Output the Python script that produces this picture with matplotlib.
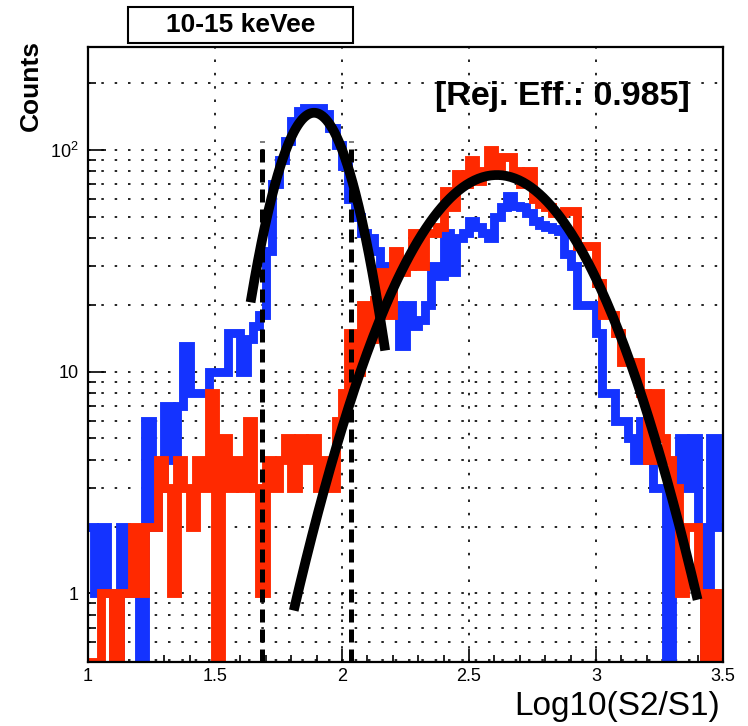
import matplotlib
matplotlib.use("Agg")
import matplotlib.pyplot as plt
import numpy as np
from matplotlib.ticker import MultipleLocator, FixedLocator, FixedFormatter, LogLocator, NullFormatter, FuncFormatter
from matplotlib.patches import Rectangle

plt.rcParams['font.family'] = ['Liberation Sans', 'DejaVu Sans']
plt.rcParams['mathtext.default'] = 'regular'

# histogram binning: 100 bins of 0.025 between 1 and 3.5
bin_lo, bin_hi, n_bins = 1.0, 3.5, 100

# blue histogram (electron recoils, 10-15 keVee)
blue_counts = [2, 1, 2, 1, 0, 2, 1, 1, 0, 6,
               2, 3, 7, 4, 7, 13, 8, 8, 8, 10,
               10, 10, 15, 15, 10, 14, 16, 18, 35, 70,
               90, 110, 135, 150, 155, 155, 155, 145, 125, 105,
               85, 60, 50, 42, 40, 35, 30, 28, 20, 13,
               20, 16, 17, 20, 30, 27, 42, 28, 40, 42,
               48, 45, 42, 40, 50, 55, 62, 56, 55, 52,
               48, 46, 45, 44, 43, 34, 30, 20, 20, 20,
               15, 8, 8, 6, 6, 5, 4, 6, 4, 3,
               3, 0, 3, 5, 3, 5, 2, 0, 5, 2]

# red histogram (nuclear recoils)
red_counts = [0, 0, 1, 1, 0, 1, 1, 2, 1, 2,
              2, 4, 3, 1, 4, 3, 2, 4, 3, 8,
              0, 5, 3, 4, 3, 6, 3, 1, 4, 3,
              4, 5, 3, 5, 4, 5, 3, 4, 3, 6,
              8, 15, 10, 20, 14, 21, 28, 18, 35, 28,
              30, 42, 30, 42, 42, 45, 65, 55, 78, 70,
              90, 72, 80, 100, 85, 93, 93, 80, 70, 80,
              60, 57, 55, 52, 52, 53, 53, 37, 37, 37,
              25, 18, 18, 15, 11, 11, 11, 8, 4, 8,
              5, 4, 3, 1, 2, 2, 1, 0, 1, 0]

# gaussian fits in log10(S2/S1)
blue_fit = dict(amp=147.0, mean=1.89, sigma=0.126, x_from=1.64, x_to=2.17)
red_fit = dict(amp=77.0, mean=2.61, sigma=0.266, x_from=1.81, x_to=3.40)

# acceptance window
cut_lines = [1.685, 2.035]
cut_top = 110

energy_label = "10-15 keVee"
rej_label = "[Rej. Eff.: 0.985]"

ymin, ymax = 0.49, 291

fig = plt.figure(figsize=(7.48, 7.26), dpi=100)
ax = fig.add_axes([88 / 748, 1 - 662 / 726, 635 / 748, 615 / 726])
ax.set_yscale('log')
ax.set_xlim(bin_lo, bin_hi)
ax.set_ylim(ymin, ymax)

edges = np.linspace(bin_lo, bin_hi, n_bins + 1)
blue_col = (0.08, 0.2, 1.0)
red_col = (1.0, 0.16, 0.0)

# zero bins sit on the bottom axis like in ROOT
ax.stairs(np.maximum(blue_counts, ymin), edges, color=blue_col, lw=6.4,
          baseline=None, zorder=3)
ax.stairs(np.maximum(red_counts, ymin), edges, color=red_col, lw=6.4,
          baseline=None, zorder=4)

for xc in cut_lines:
    ax.plot([xc, xc], [ymin, cut_top], color='black', lw=3.6,
            linestyle=(0, (2.6, 1.4)), zorder=5)

def gaus(p):
    xx = np.linspace(p['x_from'], p['x_to'], 200)
    return xx, p['amp'] * np.exp(-0.5 * ((xx - p['mean']) / p['sigma']) ** 2)

for p in (blue_fit, red_fit):
    xx, yy = gaus(p)
    ax.plot(xx, yy, color='black', lw=7, solid_capstyle='butt', zorder=6)

# axes cosmetics
ax.xaxis.set_major_locator(MultipleLocator(0.5))
ax.xaxis.set_minor_locator(MultipleLocator(0.1))
ax.xaxis.set_major_formatter(FuncFormatter(lambda v, pos: '%g' % v))
ax.yaxis.set_major_locator(FixedLocator([1, 10, 100]))
ax.yaxis.set_major_formatter(FixedFormatter(['1', '10', '$10^{2}$']))
ax.yaxis.set_minor_locator(LogLocator(base=10, subs=np.arange(2, 10)))
ax.yaxis.set_minor_formatter(NullFormatter())

ax.tick_params(which='both', direction='in', top=False, right=False,
               width=1.2, colors='black', labelsize=13)
ax.tick_params(axis='x', which='major', length=9.5, pad=4)
ax.tick_params(axis='x', which='minor', length=5)
ax.tick_params(axis='y', which='major', length=13, pad=7)
ax.tick_params(axis='y', which='minor', length=6)

grid_kw = dict(color='black', lw=1.2, linestyle=(0, (1.5, 6.5)))
ax.grid(True, axis='x', which='major', **grid_kw)
ax.grid(True, axis='y', which='both', **grid_kw)
ax.set_axisbelow(True)
for s in ax.spines.values():
    s.set_linewidth(1.6)
    s.set_zorder(7)

ax.text(0.948, 0.919, rej_label, transform=ax.transAxes, ha='right',
        va='center', fontsize=24.5, fontweight='bold', zorder=8)

fig.text(720 / 748, 1 - 706 / 726, 'Log10(S2/S1)', ha='right', va='center',
         fontsize=24)
fig.text(31 / 748, 1 - 40 / 726, 'Counts', rotation=90, ha='center',
         va='top', fontsize=19, fontweight='bold')

fig.patches.append(Rectangle((128 / 748, 1 - 43 / 726), 225 / 748, 36 / 726,
                             transform=fig.transFigure, facecolor='white',
                             edgecolor='black', lw=1.5))
fig.text(240.5 / 748, 1 - 25 / 726, energy_label, ha='center', va='center',
         fontsize=19, fontweight='bold')

fig.savefig('out.png', dpi=100)
